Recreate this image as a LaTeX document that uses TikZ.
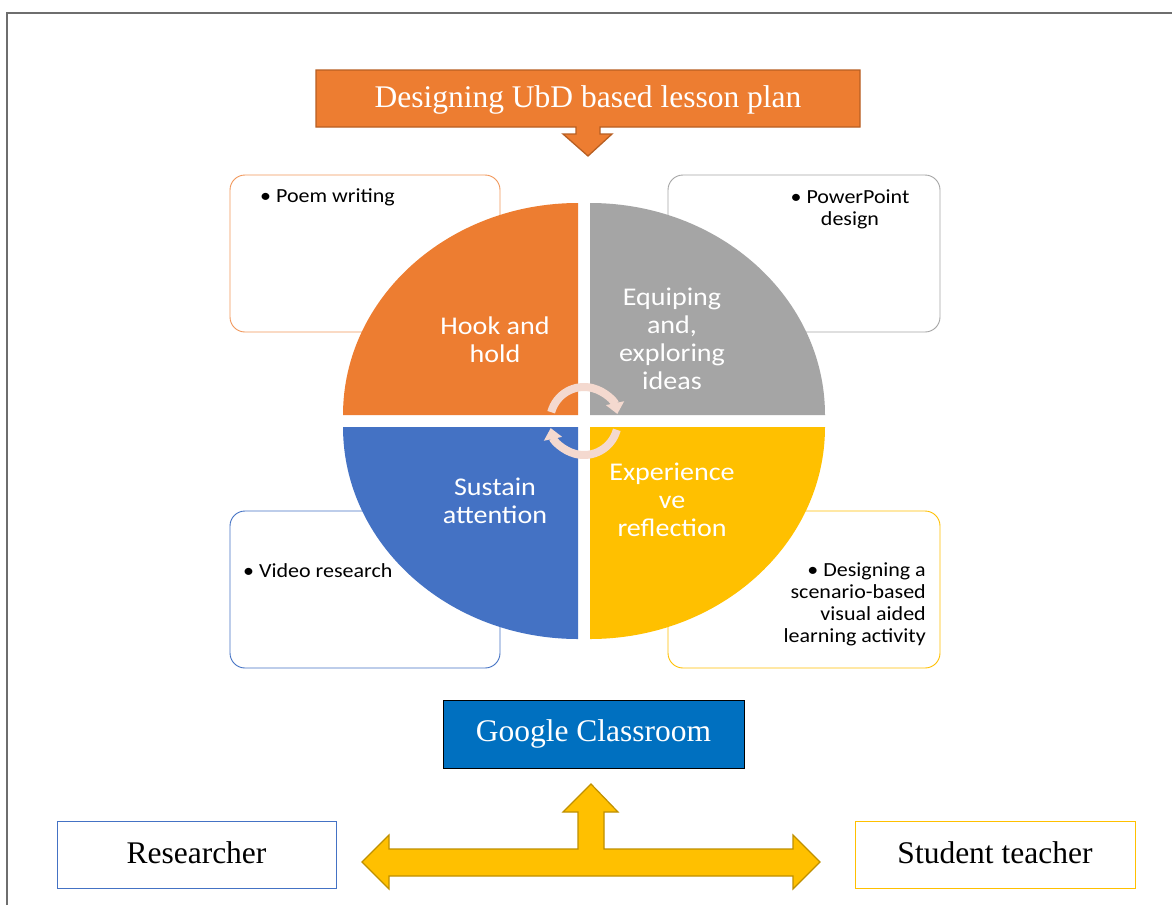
\documentclass[tikz,border=0pt]{standalone}
\usepackage{fontspec}
\setmainfont{Liberation Serif}
\newfontfamily\calfont[FakeStretch=1.1]{Carlito}
\usetikzlibrary{arrows.meta}
\definecolor{qorange}{HTML}{ED7D31}
\definecolor{qorangedark}{HTML}{B85F22}
\definecolor{qgray}{HTML}{A5A5A5}
\definecolor{qblue}{HTML}{4472C4}
\definecolor{qyellow}{HTML}{FFC000}
\definecolor{qyellowdark}{HTML}{BF9000}
\definecolor{gcblue}{HTML}{0070C0}
\definecolor{cyclecol}{HTML}{F4D9CF}
\definecolor{framegray}{HTML}{6E6E6E}
\tikzset{
  sidebox/.style={draw, line width=0.9pt, rounded corners=15pt, fill=white},
  quadtext/.style={text=white, font=\calfont\fontsize{25.5}{28}\selectfont, align=center, inner sep=0pt},
  smalltext/.style={text=black, font=\calfont\fontsize{20}{22}\selectfont, inner sep=0pt},
  serifbox/.style={font=\fontsize{31.5}{36}\selectfont, inner sep=0pt},
  cyclearrow/.style={draw=cyclecol, line width=8pt, -{Triangle[width=18pt,length=11pt]}},
}
\begin{document}
\begin{tikzpicture}[x=1pt,y=-1pt]
\useasboundingbox (0,0) rectangle (1172,905);
\fill[white] (0,0) rectangle (1172,905);
% frame
\draw[framegray, line width=1.6pt] (7,905) -- (7,13) -- (1172,13);

% title callout
\draw[qorangedark, fill=qorange, line width=1.3pt, line join=miter]
  (316,70) -- (860,70) -- (860,127) -- (600,127) -- (600,134) -- (612,134)
  -- (588,156) -- (563,134) -- (576,134) -- (576,127) -- (316,127) -- cycle;
\node[serifbox, text=white] (title) at (588,100) {\raisebox{2pt}{Designing UbD based lesson plan}};

% side boxes
\draw[sidebox, draw=qorange!80] (230,175) rectangle (500,332);
\draw[sidebox, draw=qgray] (668,175) rectangle (940,332);
\draw[sidebox, draw=qblue] (230,511) rectangle (500,668);
\draw[sidebox, draw=qyellow] (668,511) rectangle (940,668);

\node[smalltext, anchor=west] (t1) at (260,197) {\textbullet\ Poem writing};
\node[smalltext, align=center] (t2) at (850,209) {\textbullet\ PowerPoint\\design};
\node[smalltext, anchor=west] (t3) at (243,571) {\textbullet\ Video research};
\node[smalltext, align=right, anchor=east] (t4) at (926,604)
  {\textbullet\ Designing a\\scenario-based\\visual aided\\learning activity};

% quadrants
\fill[qorange] (578,415) -- (343,415) arc[start angle=180, end angle=90, x radius=235pt, y radius=212pt] -- cycle;
\fill[qgray] (590,415) -- (590,203) arc[start angle=90, end angle=0, x radius=235pt, y radius=212pt] -- cycle;
\fill[qblue] (578,427) -- (343,427) arc[start angle=180, end angle=270, x radius=235pt, y radius=212pt] -- cycle;
\fill[qyellow] (590,427) -- (825,427) arc[start angle=0, end angle=-90, x radius=235pt, y radius=212pt] -- cycle;

\node[quadtext] (q1) at (495,340) {Hook and\\hold};
\node[quadtext] (q2) at (672,339) {Equiping\\and,\\exploring\\ideas};
\node[quadtext] (q3) at (495,501) {Sustain\\attention};
\node[quadtext] (q4) at (672,500) {Experience\\ve\\reflection};

% cycle arrows
\coordinate (c1) at (551.2,412.2);
\coordinate (c2) at (616.8,429.8);
\draw[cyclearrow] (c1) arc[start angle=165, end angle=12, radius=34pt];
\draw[cyclearrow] (c2) arc[start angle=-15, end angle=-168, radius=34pt];

% Google Classroom
\node[serifbox, draw=black, line width=1pt, fill=gcblue, text=white,
  minimum width=301pt, minimum height=68pt] (gc) at (593.5,734) {\raisebox{3pt}{Google Classroom}};

% Researcher / Student teacher
\node[serifbox, draw=qblue, line width=1pt, fill=white, text=black,
  minimum width=279pt, minimum height=67pt] (res) at (196.5,854.5) {\raisebox{4pt}{Researcher}};
\node[serifbox, draw=qyellow, line width=1pt, fill=white, text=black,
  minimum width=280pt, minimum height=67pt] (stu) at (995,854.5) {\raisebox{4pt}{Student teacher}};

% yellow three-way arrow
\draw[qyellowdark, fill=qyellow, line width=1.2pt, line join=miter]
  (362,862) -- (389,835) -- (389,849) -- (578,849) -- (578,812) -- (563,812)
  -- (591,784) -- (618,812) -- (604,812) -- (604,849) -- (793,849) -- (793,835)
  -- (820,862) -- (793,889) -- (793,876) -- (389,876) -- (389,889) -- cycle;
\end{tikzpicture}
\end{document}
